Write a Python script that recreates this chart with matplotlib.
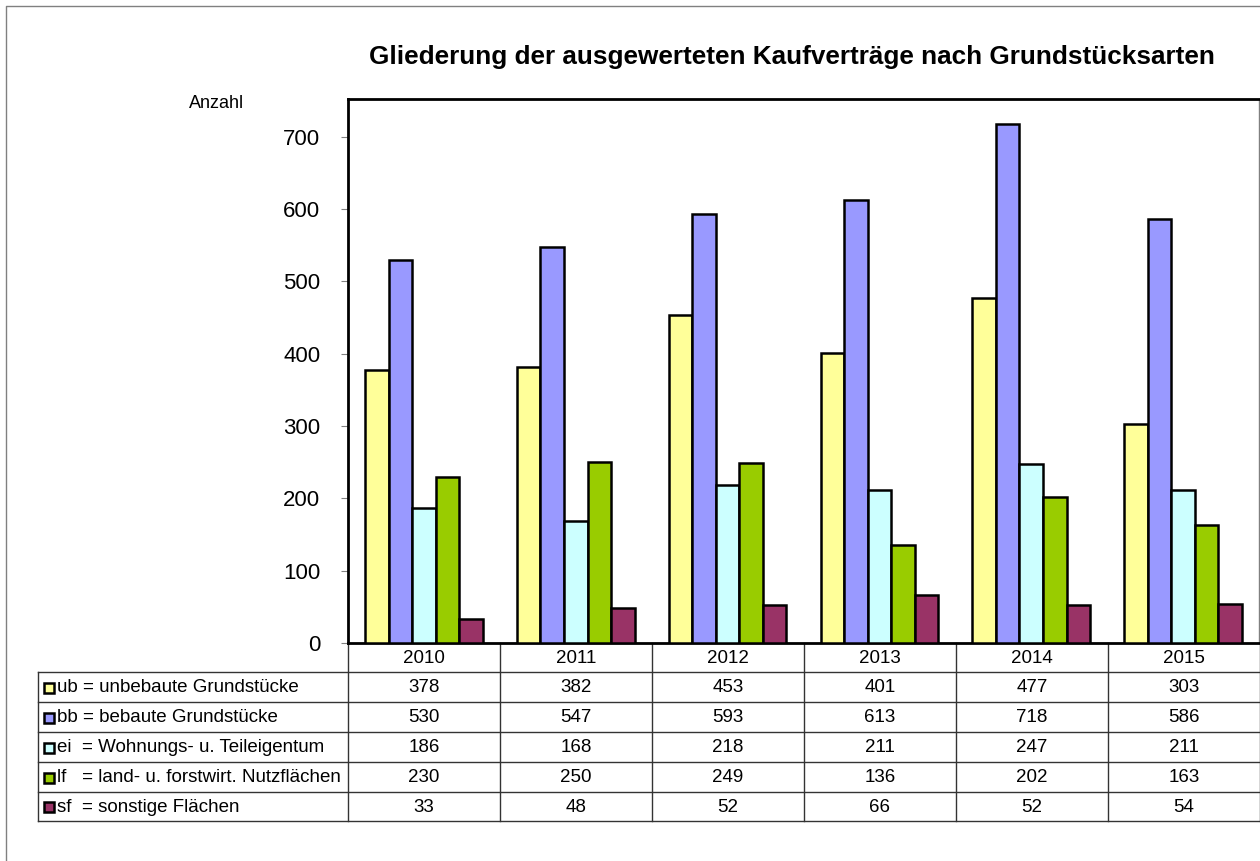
import matplotlib
matplotlib.use("Agg")
import matplotlib.pyplot as plt
from matplotlib.patches import Rectangle

plt.rcParams['font.family'] = ['Liberation Sans', 'DejaVu Sans']

years = ['2010', '2011', '2012', '2013', '2014', '2015']
labels = ['ub = unbebaute Grundstücke',
          'bb = bebaute Grundstücke',
          'ei  = Wohnungs- u. Teileigentum',
          'lf   = land- u. forstwirt. Nutzflächen',
          'sf  = sonstige Flächen']
ub = [378, 382, 453, 401, 477, 303]
bb = [530, 547, 593, 613, 718, 586]
ei = [186, 168, 218, 211, 247, 211]
lf = [230, 250, 249, 136, 202, 163]
sf = [33, 48, 52, 66, 52, 54]
series = [ub, bb, ei, lf, sf]
colors = ['#FFFF99', '#9999FF', '#CCFFFF', '#99CC00', '#993366']

W, H = 1260, 861
fig = plt.figure(figsize=(W / 100, H / 100), dpi=100)

# overlay in pixel units for frame and table
ov = fig.add_axes([0, 0, 1, 1], zorder=0)
ov.set_xlim(0, W)
ov.set_ylim(H, 0)
ov.axis('off')

# outer frame
ov.plot([6, 6, W + 5], [H + 5, 6, 6], color='#808080', lw=1)

# plot area
x0, x1, ytop, ybot = 348, 1259, 99, 643
ax = fig.add_axes([x0 / W, (H - ybot) / H, (x1 - x0) / W, (ybot - ytop) / H], zorder=2)
ax.patch.set_alpha(0)
n = len(years)
bw = 0.155
for k, (vals, c) in enumerate(zip(series, colors)):
    xs = [i + (k - 2) * bw for i in range(n)]
    ax.bar(xs, vals, width=bw, color=c, edgecolor='black', linewidth=1.8, zorder=3)
ax.set_xlim(-0.5, n - 0.5)
ax.set_ylim(0, 752)
ax.set_yticks(range(0, 701, 100))
ax.set_xticks([])
ax.tick_params(axis='y', direction='out', length=5, color='#808080', labelsize=16, pad=15)
for s in ['top', 'left', 'bottom']:
    ax.spines[s].set_linewidth(2)
    ax.spines[s].set_color('black')
ax.spines['right'].set_linewidth(1)
ax.spines['right'].set_color('#808080')

fig.text(792 / W, 1 - 57 / H, 'Gliederung der ausgewerteten Kaufverträge nach Grundstücksarten',
         ha='center', va='center', fontsize=18.8, fontweight='bold')
fig.text(217 / W, 1 - 103 / H, 'Anzahl', ha='center', va='center', fontsize=13)

# data table
colw = (W - x0) / n
rows = [643, 672, 702, 732, 762, 792, 821]
lc = '#333333'
tl = 38
for y in rows[1:]:
    ov.plot([tl, W], [y, y], color=lc, lw=1)
for i in range(n + 1):
    xx = x0 + i * colw
    ov.plot([xx, xx], [rows[0], rows[-1]], color=lc, lw=1)
ov.plot([tl, tl], [rows[1], rows[-1]], color=lc, lw=1)

for i, yr in enumerate(years):
    ov.text(x0 + (i + 0.5) * colw, (rows[0] + rows[1]) / 2 + 1, yr,
            ha='center', va='center', fontsize=13.5)
for r, (lab, vals, c) in enumerate(zip(labels, series, colors)):
    yc = (rows[r + 1] + rows[r + 2]) / 2 + 1
    ov.add_patch(Rectangle((44, yc - 5.5), 10, 10, facecolor=c, edgecolor='black', lw=1.8))
    ov.text(57, yc, lab, ha='left', va='center', fontsize=13.5)
    for i, v in enumerate(vals):
        ov.text(x0 + (i + 0.5) * colw, yc, str(v), ha='center', va='center', fontsize=13.5)

fig.savefig('out.png', dpi=100)
